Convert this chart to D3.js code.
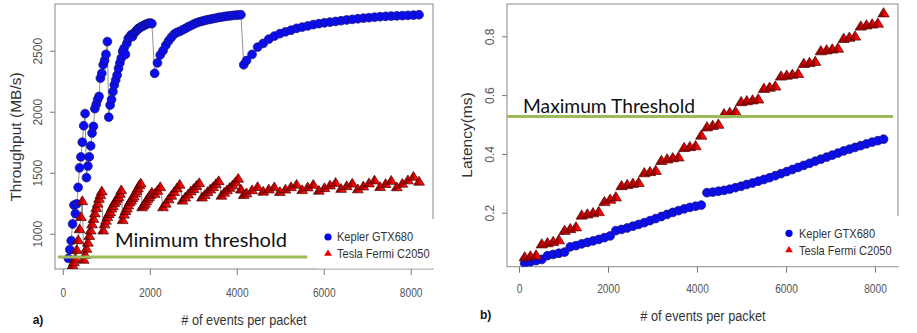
<!DOCTYPE html>
<html>
<head>
<meta charset="utf-8">
<script src="https://cdn.jsdelivr.net/npm/d3@7"></script>
<style>body{margin:0;background:#fff}</style>
</head>
<body>
<div id="chart"></div>
<script>
// panel a) throughput, events per packet (denser sampling at the start)
const eventsA = [128,160,192,224,256,288,320,352,384,416,448,480,512,544,576,608,640,672,704,736,768,800,832,864,896,928,960,992,1024,
  1056,1088,1120,1152,1184,1216,1248,1280,1312,1344,1376,1408,1440,1472,1504,1536,1568,1600,1632,1664,1696,1728,1760,1792,1824,1856,1888,1920,1952,1984,2016,2048,
  2112,2176,2240,2304,2368,2432,2496,2560,2624,2688,2752,2816,2880,2944,3008,3072,3136,3200,3264,3328,3392,3456,3520,3584,3648,3712,3776,3840,3904,3968,4032,4096,
  4160,4224,4352,4480,4608,4736,4864,4992,5120,5248,5376,5504,5632,5760,5888,6016,6144,6272,6400,6528,6656,6784,6912,7040,7168,7296,7424,7552,7680,7808,7936,8064,8192];
const keplerThroughput = [798,870,943,1080,1235,1165,1245,1380,1540,1630,1750,1885,1985,
  1460,1555,1630,1720,1825,1880,2025,2060,2100,2125,2275,2315,2385,2420,2470,2575,
  1955,2055,2100,2165,2220,2260,2300,2355,2400,2440,2495,2520,2470,2560,2600,2610,2630,2615,2640,2655,2665,2680,2685,2695,2700,2705,2712,2718,2722,2725,2727,2722,
  2315,2400,2465,2500,2545,2580,2610,2635,2650,2658,2670,2682,2695,2706,2718,2728,2736,2742,2748,2754,2758,2763,2768,2773,2776,2780,2783,2786,2789,2791,2793,2795,
  2385,2420,2470,2530,2560,2595,2620,2640,2655,2668,2684,2694,2703,2714,2722,2729,2735,2740,2746,2752,2757,2762,2767,2771,2775,2779,2782,2784,2786,2788,2790,2792,2795];
const fermiThroughput = [600,640,690,745,770,800,870,950,1040,1140,1270,790,830,
  880,930,985,1030,1080,1125,1170,1215,1250,1290,1320,1350,1030,1080,1110,1140,
  1165,1180,1210,1230,1255,1270,1290,1305,1330,1360,1115,1160,1190,1210,1235,1260,1275,1295,1310,1335,1355,1375,1400,1415,1220,1235,1250,1270,1290,1305,1320,1340,
  1330,1355,1385,1220,1250,1285,1315,1345,1375,1405,1275,1300,1325,1350,1370,1395,1418,1300,1320,1345,1365,1385,1410,1434,1315,1340,1360,1380,1400,1425,1454,1365,
  1320,1335,1360,1386,1348,1366,1384,1345,1365,1385,1405,1361,1383,1404,1356,1377,1399,1420,1371,1393,1414,1367,1391,1416,1440,1386,1411,1437,1384,1413,1441,1470,1430];

// panel b) latency
const eventsB = [128,256,384,512,640,768,896,1024,1152,1280,1408,1536,1664,1792,1920,2048,
  2176,2304,2432,2560,2688,2816,2944,3072,3200,3328,3456,3584,3712,3840,3968,4096,
  4224,4352,4480,4608,4736,4864,4992,5120,5248,5376,5504,5632,5760,5888,6016,6144,
  6272,6400,6528,6656,6784,6912,7040,7168,7296,7424,7552,7680,7808,7936,8064,8192];
const keplerLatency = [0.028,0.033,0.037,0.041,0.054,0.058,0.062,0.066,0.084,0.088,0.094,0.099,0.104,0.109,0.115,0.121,
  0.139,0.143,0.148,0.154,0.160,0.166,0.173,0.180,0.187,0.194,0.201,0.207,0.213,0.218,0.222,0.226,
  0.268,0.270,0.273,0.276,0.280,0.285,0.290,0.296,0.301,0.307,0.313,0.319,0.326,0.333,0.340,0.347,
  0.354,0.361,0.368,0.375,0.382,0.389,0.396,0.403,0.410,0.416,0.422,0.428,0.434,0.440,0.445,0.450];
const fermiLatency = [0.050,0.053,0.056,0.094,0.098,0.102,0.108,0.140,0.146,0.152,0.192,0.196,0.200,0.204,0.238,0.246,
  0.254,0.292,0.296,0.300,0.303,0.336,0.340,0.344,0.378,0.383,0.387,0.390,0.422,0.425,0.428,0.464,
  0.492,0.497,0.501,0.537,0.541,0.545,0.578,0.581,0.584,0.587,0.623,0.627,0.631,0.665,0.668,0.671,
  0.674,0.708,0.711,0.715,0.751,0.754,0.757,0.760,0.793,0.797,0.801,0.835,0.839,0.842,0.845,0.880];

const xTicks = [0, 2000, 4000, 6000, 8000];
const throughputTicks = [1000, 1500, 2000, 2500];
const latencyTicks = [0.2, 0.4, 0.6, 0.8];
const seriesNames = ["Kepler GTX680", "Tesla Fermi C2050"];
const minThroughput = 809;
const maxLatency = 0.527;

const fontR = "'Liberation Sans', Arial, sans-serif";
const W = 917, H = 333;

const svg = d3.select("#chart").append("svg").attr("width", W).attr("height", H);
svg.append("rect").attr("width", W).attr("height", H).attr("fill", "#fff");

// shaded fill for the triangles: dark left face, bright right face
const grad = svg.append("defs").append("linearGradient")
  .attr("id", "triFill").attr("x1", 0).attr("x2", 1).attr("y1", 0).attr("y2", 0);
grad.append("stop").attr("offset", "0%").attr("stop-color", "#8c0000");
grad.append("stop").attr("offset", "50%").attr("stop-color", "#b80000");
grad.append("stop").attr("offset", "53%").attr("stop-color", "#ee0000");
grad.append("stop").attr("offset", "100%").attr("stop-color", "#ff1a1a");

// wide triangle marker (pch 24 look)
const wideTri = {
  draw(ctx, size) {
    const s = Math.sqrt(size) / 8;
    ctx.moveTo(0, -4.3 * s);
    ctx.lineTo(4.7 * s, 3.4 * s);
    ctx.lineTo(-4.7 * s, 3.4 * s);
    ctx.closePath();
  }
};

function panel(p) {
  const g = svg.append("g");
  const x = d3.scaleLinear().domain(p.xDomain).range([p.x0, p.x1]);
  const y = d3.scaleLinear().domain(p.yDomain).range([p.y1, p.y0]);

  svg.append("clipPath").attr("id", "clip" + p.id)
    .append("rect").attr("x", p.x0).attr("y", p.y0)
    .attr("width", p.x1 - p.x0).attr("height", p.y1 - p.y0);

  // axes
  const xa = g.append("g").attr("transform", `translate(0,${p.y1})`)
    .call(d3.axisBottom(x).tickValues(xTicks).tickSize(6).tickFormat(d3.format("d")));
  xa.select(".domain").remove();
  xa.selectAll("line").attr("stroke", "#777");
  xa.selectAll("text")
    .attr("y", p.xLabelOff).attr("dy", "0.35em")
    .attr("transform", "scale(0.85,1)")
    .attr("fill", "#555")
    .style("font-size", "12px").style("font-family", fontR);

  const ya = g.append("g").attr("transform", `translate(${p.x0},0)`)
    .call(d3.axisLeft(y).tickValues(p.yTicks).tickSize(5).tickFormat(p.yFmt));
  ya.select(".domain").remove();
  ya.selectAll("line").attr("stroke", "#777");
  ya.selectAll("text")
    .attr("x", 0).attr("y", p.yLabelOff).attr("dy", 0)
    .attr("transform", "rotate(-90)")
    .attr("text-anchor", "middle")
    .attr("fill", "#555")
    .style("font-size", "12px").style("font-family", fontR);

  // box
  g.append("rect")
    .attr("x", p.x0).attr("y", p.y0)
    .attr("width", p.x1 - p.x0).attr("height", p.y1 - p.y0)
    .attr("fill", "none").attr("stroke", "#888").attr("stroke-width", 1);

  const plot = g.append("g").attr("clip-path", `url(#clip${p.id})`);

  if (p.lines) {
    const line = d3.line().x(d => x(d[0])).y(d => y(d[1]));
    [p.blue, p.red].forEach(vals => {
      plot.append("path")
        .datum(p.events.map((e, i) => [e, vals[i]]))
        .attr("d", line)
        .attr("fill", "none").attr("stroke", "#777").attr("stroke-width", 0.8);
    });
  }

  plot.append("g").selectAll("circle")
    .data(p.events.map((e, i) => [e, p.blue[i]]))
    .join("circle")
    .attr("cx", d => x(d[0])).attr("cy", d => y(d[1]))
    .attr("r", 4.4)
    .attr("fill", "#0c0cf0").attr("stroke", "#14146a").attr("stroke-width", 0.7);

  plot.append("g").selectAll("path")
    .data(p.events.map((e, i) => [e, p.red[i]]))
    .join("path")
    .attr("transform", d => `translate(${x(d[0])},${y(d[1])})`)
    .attr("d", d3.symbol().type(wideTri).size(p.triSize))
    .attr("fill", "url(#triFill)").attr("stroke", "#4a0000").attr("stroke-width", 0.7);

  // legend (pasted on white)
  g.append("rect")
    .attr("x", p.leg.x0).attr("y", p.leg.y0)
    .attr("width", p.leg.x1 - p.leg.x0).attr("height", p.y1 - 0.6 - p.leg.y0)
    .attr("fill", "#fff");
  g.append("circle").attr("cx", p.leg.mx).attr("cy", p.leg.r1).attr("r", 3.6).attr("fill", "#0000ee");
  g.append("path")
    .attr("transform", `translate(${p.leg.mx},${p.leg.r2})`)
    .attr("d", d3.symbol().type(wideTri).size(44))
    .attr("fill", "#ee0000");
  [p.leg.r1, p.leg.r2 + 1].forEach((cy, i) => {
    g.append("text")
      .attr("transform", `translate(${p.leg.tx},${cy}) scale(0.85,1)`)
      .attr("dominant-baseline", "central")
      .attr("fill", "#333")
      .style("font-family", fontR).style("font-size", "13px")
      .text(seriesNames[i]);
  });

  // threshold
  g.append("line")
    .attr("x1", x(p.thrX[0])).attr("x2", x(p.thrX[1]))
    .attr("y1", y(p.thr)).attr("y2", y(p.thr))
    .attr("stroke", "#9bbb59").attr("stroke-width", 3);
  g.append("text")
    .attr("x", p.thrText.x).attr("y", p.thrText.y)
    .attr("textLength", p.thrText.w).attr("lengthAdjust", "spacingAndGlyphs")
    .attr("fill", "#111")
    .style("font-family", "Lato, 'Open Sans', sans-serif").style("font-size", "20px")
    .text(p.thrText.label);

  // titles
  g.append("text")
    .attr("transform", `translate(${p.yTitle.x},${p.yTitle.y}) rotate(-90)`)
    .attr("text-anchor", "middle").attr("dominant-baseline", "central")
    .attr("fill", "#333")
    .style("font-family", fontR).style("font-size", "15.5px")
    .text(p.yTitle.label);
  g.append("text")
    .attr("transform", `translate(${p.xTitle.x},${p.xTitle.y}) scale(0.85,1)`)
    .attr("text-anchor", "middle").attr("dominant-baseline", "central")
    .attr("fill", "#333")
    .style("font-family", fontR).style("font-size", "15px")
    .text("# of events per packet");
  g.append("text")
    .attr("x", p.tag.x).attr("y", p.tag.y)
    .attr("text-anchor", "middle").attr("dominant-baseline", "central")
    .attr("fill", "#111")
    .style("font-family", fontR).style("font-size", "12px").style("font-weight", "bold")
    .text(p.tag.label);
}

panel({
  id: "a", x0: 55, x1: 433, y0: 4, y1: 269,
  xDomain: [-180, 8513], yDomain: [711, 2883],
  yTicks: throughputTicks, yFmt: d3.format("d"),
  xLabelOff: 24, yLabelOff: -13,
  events: eventsA, blue: keplerThroughput, red: fermiThroughput, lines: true, triSize: 84,
  leg: { x0: 317, x1: 440, y0: 219, mx: 328, r1: 237, r2: 253, tx: 337 },
  thr: minThroughput, thrX: [-110, 5620],
  thrText: { x: 115, y: 246.5, w: 172, label: "Minimum threshold" },
  yTitle: { x: 15, y: 137, label: "Throughput (MB/s)" },
  xTitle: { x: 244, y: 320 },
  tag: { x: 38, y: 319.5, label: "a)" }
});

panel({
  id: "b", x0: 507, x1: 898, y0: 4, y1: 266.7,
  xDomain: [-270, 8517], yDomain: [0.0163, 0.91],
  yTicks: latencyTicks, yFmt: d3.format(".1f"),
  xLabelOff: 22, yLabelOff: -13.5,
  events: eventsB, blue: keplerLatency, red: fermiLatency, lines: false, triSize: 92,
  leg: { x0: 778, x1: 905, y0: 216, mx: 789, r1: 233.3, r2: 249.5, tx: 799 },
  thr: maxLatency, thrX: [-270, 8404],
  thrText: { x: 523, y: 113.3, w: 172, label: "Maximum Threshold" },
  yTitle: { x: 466, y: 135, label: "Latency(ms)" },
  xTitle: { x: 703, y: 316 },
  tag: { x: 485.7, y: 315.3, label: "b)" }
});
</script>
</body>
</html>
